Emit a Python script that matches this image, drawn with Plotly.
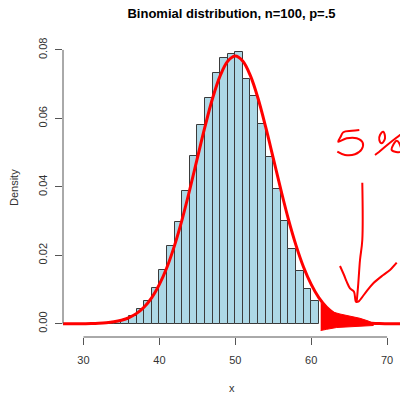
import plotly.graph_objects as go

# ---- data ----
bin_left = [33, 34, 35, 36, 37, 38, 39, 40, 41, 42, 43, 44, 45, 46,
            47, 48, 49, 50, 51, 52, 53, 54, 55, 56, 57, 58, 59, 60]
density = [0.0003, 0.0006, 0.0012, 0.0023, 0.0044, 0.0066, 0.0105, 0.0158,
           0.0227, 0.0296, 0.0389, 0.0491, 0.0582, 0.0661, 0.0734, 0.0775,
           0.0787, 0.0793, 0.0716, 0.0665, 0.0585, 0.0486, 0.0395, 0.0301,
           0.0218, 0.0154, 0.0103, 0.0068]

curve_x = list(range(26, 74))
curve_y = [0, 0, 0, 0, 0.00003, 0.00007, 0.00015, 0.0003, 0.00057, 0.00104,
           0.00181, 0.00304, 0.00491, 0.00764, 0.0115, 0.0165, 0.0229, 0.0305,
           0.0392, 0.0484, 0.0575, 0.0658, 0.0724, 0.0767, 0.0782, 0.0767,
           0.0724, 0.0658, 0.0575, 0.0484, 0.0392, 0.0305, 0.0229, 0.0165,
           0.0115, 0.00764, 0.00491, 0.00304, 0.00181, 0.00104, 0.00057,
           0.0003, 0.00015, 0.00007, 0.00003, 0, 0, 0]

x_ticks = [30, 40, 50, 60, 70]
y_ticks = [0.0, 0.02, 0.04, 0.06, 0.08]
y_ticklabels = ["0.00", "0.02", "0.04", "0.06", "0.08"]

# ---- handwritten red annotation (pixel sketch, mapped to data coords) ----
W, H = 407, 393
X_RANGE = [27.3, 71.7]
Y_RANGE = [-0.00386, 0.0829]
ML, MR, MT, MB = 63, 7, 40, 56


def px2data(pts):
    xs, ys = [], []
    for px, py in pts:
        xs.append(X_RANGE[0] + (px - ML) / (W - ML - MR) * (X_RANGE[1] - X_RANGE[0]))
        ys.append(Y_RANGE[1] - (py - MT) / (H - MT - MB) * (Y_RANGE[1] - Y_RANGE[0]))
    return xs, ys


blob = [(320.7, 303.3), (326.7, 308.3), (331.7, 311.7), (340, 314), (350, 316),
        (360, 318.3), (368.3, 321), (373.3, 323.3), (373.3, 325.5), (363, 326.2),
        (350, 326.8), (336.7, 327.5), (326.7, 329.3), (321.7, 330.5), (320.7, 330.5)]
five = [(359.3, 130), (352, 130.8), (343.3, 132.2), (340.5, 137), (338.3, 141.7),
        (346.7, 138.3), (356.7, 138.3), (362.7, 142.7), (361.7, 149.3),
        (355, 154.3), (345, 155), (337.3, 151.7)]
pct_slash = [(404, 132), (396, 138), (386, 146), (379, 152), (375, 155)]
pct_top = [(383.3, 131.7), (380, 135), (379.3, 140), (381.7, 143.3), (385, 138.3), (383.3, 131.7)]
pct_bot = [(396.7, 140.7), (391.7, 150), (400.7, 151.7), (400, 145), (396.7, 140.7)]
arrow_shaft = [(362.3, 182.7), (362.3, 240), (360, 260), (358.3, 283.3), (356.7, 301.7)]
arrow_head = [(340, 266), (344, 275), (346.7, 281.7), (350, 288.3), (354, 291.7),
              (356, 301.7), (358.3, 301.7), (365, 293.3), (373.3, 283.3),
              (383.3, 275), (390, 270), (396.7, 262.7)]

fig = go.Figure()

fig.add_trace(go.Bar(
    x=[b + 0.5 for b in bin_left], y=density, width=1,
    marker=dict(color="#ADD8E6", line=dict(color="#3a3a3a", width=1)),
    hoverinfo="skip"))

fig.add_trace(go.Scatter(
    x=curve_x, y=curve_y, mode="lines",
    line=dict(color="#FF0000", width=3, shape="spline")))

bx, by = px2data(blob)
fig.add_trace(go.Scatter(x=bx, y=by, mode="lines", fill="toself",
                         fillcolor="#FF0000", line=dict(color="#FF0000", width=1)))

for stroke in [five, pct_slash, pct_top, pct_bot, arrow_shaft, arrow_head]:
    sx, sy = px2data(stroke)
    fig.add_trace(go.Scatter(x=sx, y=sy, mode="lines", cliponaxis=False,
                             line=dict(color="#FF0000", width=2, shape="spline")))

axis_col = "#555555"
fig.add_shape(type="line", xref="x", yref="paper", x0=30, x1=70, y0=0, y1=0,
              line=dict(color=axis_col, width=1))
fig.add_shape(type="line", xref="paper", yref="y", x0=0, x1=0, y0=0, y1=0.08,
              line=dict(color=axis_col, width=1))

fig.update_layout(
    width=W, height=H,
    margin=dict(l=ML, r=MR, t=MT, b=MB),
    paper_bgcolor="white", plot_bgcolor="white",
    showlegend=False,
    font=dict(family="Liberation Sans, Arial, sans-serif", size=11, color="#333333"),
    bargap=0,
    title=dict(text="<b>Binomial distribution, n=100, p=.5</b>",
               x=(ML + (W - ML - MR) / 2) / W, xanchor="center",
               y=1 - 13 / H, yanchor="middle", yref="container",
               font=dict(size=13, color="#000000")),
    xaxis=dict(range=X_RANGE, showgrid=False, zeroline=False, showline=False,
               tickvals=x_ticks, ticks="outside", ticklen=7, tickcolor=axis_col,
               tickwidth=1, ticklabelstandoff=6, automargin=False),
    yaxis=dict(range=Y_RANGE, showgrid=False, zeroline=False, showline=False,
               tickvals=y_ticks, ticktext=y_ticklabels, tickangle=-90,
               ticks="outside", ticklen=7, tickcolor=axis_col, tickwidth=1,
               ticklabelstandoff=4, automargin=False),
    annotations=[
        dict(text="x", xref="paper", yref="paper",
             x=0.5, y=-(388 - (H - MB)) / (H - MT - MB), showarrow=False,
             xanchor="center", yanchor="middle", font=dict(size=11)),
        dict(text="Density", xref="paper", yref="paper", textangle=-90,
             x=-(ML - 14) / (W - ML - MR), y=(H - MB - 188) / (H - MT - MB),
             showarrow=False, xanchor="center", yanchor="middle", font=dict(size=11)),
    ],
)

fig.write_html("out.html", config={"displayModeBar": False},
               post_script="document.body.style.margin='0';document.body.style.padding='0';")
